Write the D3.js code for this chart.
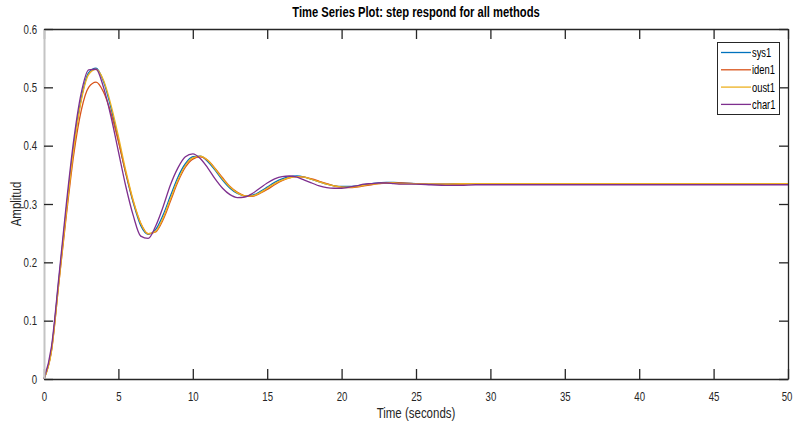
<!DOCTYPE html>
<html>
<head>
<meta charset="utf-8">
<script src="https://cdn.jsdelivr.net/npm/d3@7"></script>
<style>
  html, body { margin: 0; padding: 0; background: #fff; }
  svg { display: block; }
  text { font-family: "Liberation Sans Narrow", "Arial Narrow", "Liberation Sans", Arial, sans-serif; }
</style>
</head>
<body>
<svg id="chart" width="795" height="427"></svg>
<script>
// ---- data ----
const timeSec = [0,0.5,1,1.5,2,2.5,3,3.5,4,4.5,5,5.5,6,6.5,7,7.5,8,8.5,9,9.5,10,10.5,11,11.5,12,12.5,13,13.5,14,14.5,15,15.5,16,16.5,17,17.5,18,18.5,19,19.5,20,20.5,21,21.5,22,22.5,23,23.5,24,25,26,27,28,29,30,32,35,40,45,50];

const sys1 = [0,0.050,0.170,0.290,0.400,0.480,0.525,0.533,0.510,0.465,0.410,0.352,0.302,0.263,0.248,0.256,0.281,0.314,0.346,0.369,0.381,0.382,0.373,0.358,0.341,0.327,0.318,0.314,0.315,0.321,0.329,0.337,0.343,0.347,0.348,0.346,0.342,0.338,0.334,0.331,0.330,0.330,0.331,0.333,0.335,0.336,0.337,0.337,0.336,0.335,0.334,0.334,0.335,0.335,0.335,0.335,0.335,0.335,0.335,0.335];

const iden1 = [0,0.048,0.165,0.280,0.385,0.460,0.500,0.509,0.492,0.456,0.407,0.353,0.304,0.267,0.249,0.252,0.273,0.305,0.338,0.363,0.377,0.381,0.375,0.361,0.345,0.330,0.320,0.314,0.313,0.318,0.325,0.333,0.340,0.345,0.347,0.346,0.343,0.339,0.335,0.331,0.329,0.328,0.329,0.331,0.333,0.335,0.336,0.336,0.336,0.335,0.334,0.334,0.334,0.335,0.335,0.335,0.335,0.335,0.335,0.335];

const oust1 = [0,0.047,0.165,0.285,0.395,0.477,0.522,0.531,0.512,0.470,0.416,0.357,0.306,0.267,0.249,0.253,0.276,0.309,0.341,0.366,0.379,0.382,0.375,0.360,0.343,0.329,0.319,0.314,0.314,0.319,0.327,0.335,0.341,0.345,0.347,0.346,0.342,0.338,0.334,0.331,0.329,0.329,0.330,0.332,0.334,0.335,0.336,0.336,0.335,0.335,0.334,0.334,0.335,0.335,0.335,0.335,0.335,0.335,0.335,0.335];

const char1 = [0,0.055,0.175,0.300,0.410,0.490,0.530,0.531,0.500,0.450,0.390,0.330,0.280,0.245,0.241,0.262,0.295,0.333,0.362,0.381,0.386,0.378,0.362,0.343,0.327,0.316,0.311,0.312,0.318,0.327,0.336,0.343,0.347,0.348,0.346,0.341,0.336,0.331,0.328,0.327,0.327,0.329,0.331,0.334,0.335,0.336,0.336,0.335,0.334,0.334,0.333,0.332,0.332,0.333,0.333,0.333,0.333,0.333,0.333,0.333];

const seriesNames = ["sys1","iden1","oust1","char1"];
const seriesColors = ["#0072BD","#D95319","#EDB120","#7E2F8E"];
const xTicks = [0,5,10,15,20,25,30,35,40,45,50];
const yTicks = [0,0.1,0.2,0.3,0.4,0.5,0.6];
const titleText = "Time Series Plot: step respond for all methods";
const xLabelText = "Time (seconds)";
const yLabelText = "Amplitud";

// ---- helpers ----
function condense(sel, factor) {
  sel.each(function () {
    const w = this.getComputedTextLength();
    if (w > 0) {
      d3.select(this).attr("textLength", (w * factor).toFixed(2)).attr("lengthAdjust", "spacingAndGlyphs");
    }
  });
}

// ---- layout ----
const svg = d3.select("#chart");
const L = 44, R = 788, T = 29, B = 379;
const x = d3.scaleLinear().domain([0, 50]).range([L, R]);
const y = d3.scaleLinear().domain([0, 0.6]).range([B, T]);

svg.append("rect").attr("x", L).attr("y", T).attr("width", R - L).attr("height", B - T).attr("fill", "#fff");

// lines
const allSeries = [sys1, iden1, oust1, char1];
const line = d3.line().x(d => x(d[0])).y(d => y(d[1])).curve(d3.curveMonotoneX);
[0, 1, 2, 3].forEach(i => {
  const pts = timeSec.map((t, k) => [t, allSeries[i][k]]);
  svg.append("path")
    .attr("d", line(pts))
    .attr("fill", "none")
    .attr("stroke", seriesColors[i])
    .attr("stroke-width", 1.3)
    .attr("stroke-linejoin", "round");
});

// axes (MATLAB style, ticks inward, box)
const xAxisB = d3.axisBottom(x).tickValues(xTicks).tickSize(-10).tickSizeOuter(0).tickPadding(13).tickFormat(d3.format("d"));
const xAxisT = d3.axisTop(x).tickValues(xTicks).tickSize(-10).tickSizeOuter(0).tickFormat("");
const yAxisL = d3.axisLeft(y).tickValues(yTicks).tickSize(-9).tickSizeOuter(0).tickPadding(7).tickFormat(d => d === 0 ? "0" : d3.format(".1f")(d));
const yAxisR = d3.axisRight(y).tickValues(yTicks).tickSize(-9).tickSizeOuter(0).tickFormat("");

function styleAxis(g) {
  g.selectAll(".domain").attr("stroke", "#262626").attr("stroke-width", 1.3);
  g.selectAll(".tick line").attr("stroke", "#262626").attr("stroke-width", 1.3);
  g.selectAll(".tick text").attr("fill", "#262626").style("font-size", "13px")
    .style("font-family", "'Liberation Sans Narrow','Arial Narrow','Liberation Sans',Arial,sans-serif");
}

const gxB = svg.append("g").attr("transform", `translate(0,${B})`).call(xAxisB).call(styleAxis);
svg.append("g").attr("transform", `translate(0,${T})`).call(xAxisT).call(styleAxis);
svg.append("g").attr("transform", `translate(${R},0)`).call(yAxisR).call(styleAxis);
const gyL = svg.append("g").attr("transform", `translate(${L},0)`).call(yAxisL).call(styleAxis);
gyL.select(".domain").attr("stroke", "#c4c4c4").attr("stroke-width", 2);
condense(gxB.selectAll(".tick text"), 0.74);
condense(gyL.selectAll(".tick text"), 0.74);
// keep the last x label fully inside the canvas
gxB.selectAll(".tick text").filter(d => d === 50).attr("dx", -1.5);

// title & labels
const title = svg.append("text")
  .attr("x", 416).attr("y", 17)
  .attr("text-anchor", "middle")
  .style("font-size", "14px").style("font-weight", "bold").attr("fill", "#000")
  .text(titleText);
condense(title, 0.8);

const xl = svg.append("text")
  .attr("x", 416).attr("y", 418)
  .attr("text-anchor", "middle")
  .style("font-size", "14px").attr("fill", "#262626")
  .text(xLabelText);
condense(xl, 0.82);

const yl = svg.append("text")
  .attr("transform", "translate(21,204) rotate(-90)")
  .attr("text-anchor", "middle")
  .style("font-size", "14px").attr("fill", "#262626")
  .text(yLabelText);
condense(yl, 0.82);

// legend
const lg = svg.append("g");
lg.append("rect").attr("x", 717.5).attr("y", 42.5).attr("width", 62).attr("height", 72)
  .attr("fill", "#fff").attr("stroke", "#262626").attr("stroke-width", 1);
seriesNames.forEach((name, i) => {
  const yy = 52.5 + i * 17.3;
  lg.append("line").attr("x1", 721).attr("x2", 751).attr("y1", yy).attr("y2", yy)
    .attr("stroke", seriesColors[i]).attr("stroke-width", 1.3);
  const t = lg.append("text").attr("x", 752).attr("y", yy + 4.5)
    .style("font-size", "13px").attr("fill", "#000").text(name);
  condense(t, 0.72);
});
</script>
</body>
</html>
